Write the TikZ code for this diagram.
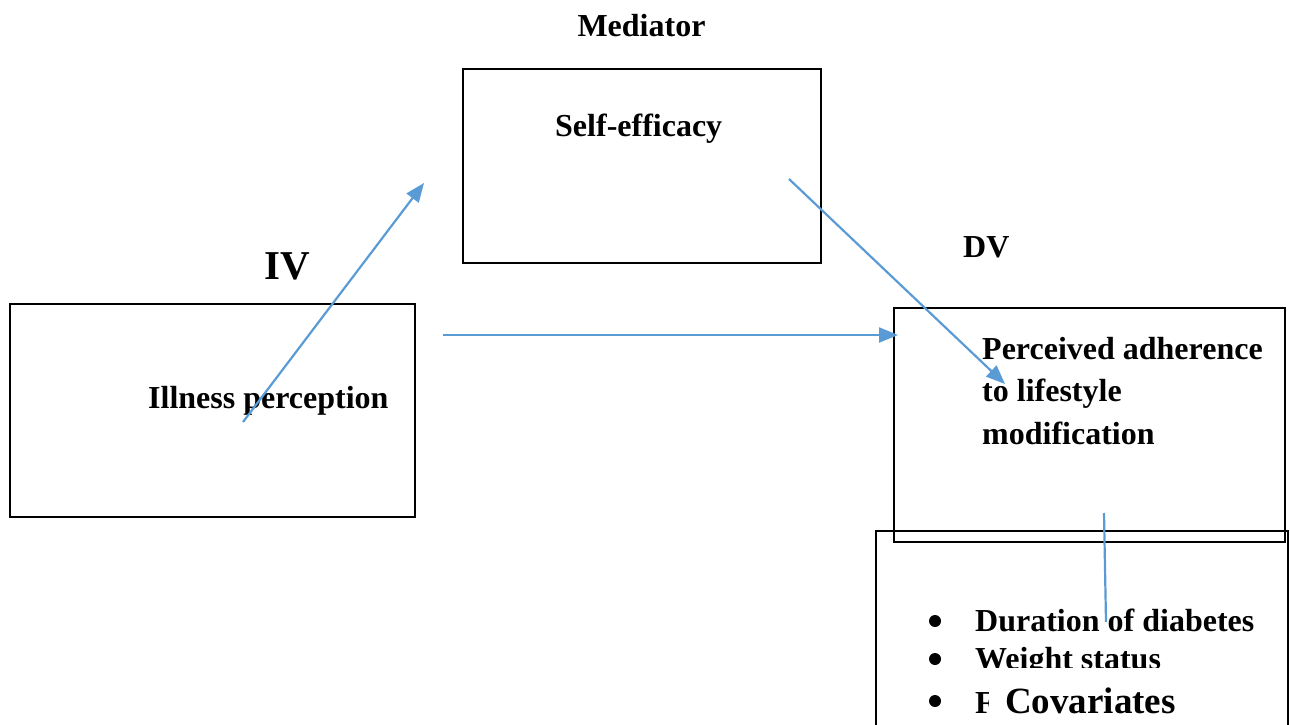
\documentclass[tikz,border=0pt]{standalone}
\usepackage{fontspec}
\setmainfont{Liberation Serif}
\usetikzlibrary{arrows.meta}
\definecolor{linkblue}{RGB}{91,155,213}

\begin{document}
\begin{tikzpicture}[x=1pt, y=-1pt,
  box/.style={draw=black, line width=2.4pt, inner sep=0pt},
  lbl/.style={font=\fontsize{32}{43}\selectfont\bfseries, inner sep=0pt},
  link/.style={draw=linkblue, line width=2.2pt},
  linkarrow/.style={link, -{Triangle[length=19pt, width=15pt]}}]
\useasboundingbox (0,0) rectangle (1290,725);
\clip (0,0) rectangle (1290,725);
% boxes
\node[box, minimum width=405pt, minimum height=213pt] (ipbox) at (212.5,410.5) {};
\node[box, minimum width=358pt, minimum height=194pt] (sebox) at (642,166) {};
\node[box, minimum width=412pt, minimum height=229pt] (covbox) at (1082,645.5) {};
\node[box, minimum width=391pt, minimum height=234pt] (dvbox) at (1089.5,425) {};
% headings
\node[lbl, anchor=base] (med) at (641.5,37) {Mediator};
\node[lbl, anchor=base west, font=\fontsize{41}{48}\selectfont\bfseries] (iv) at (264,279) {IV};
\node[lbl, anchor=base west] (dv) at (963,257) {DV};
% box texts
\node[lbl, anchor=base west] (se) at (555,136) {Self-efficacy};
\node[lbl, anchor=base west] (ip) at (148,408) {Illness perception};
\node[lbl, anchor=base west] (pa1) at (982,359) {Perceived adherence};
\node[lbl, anchor=base west] (pa2) at (982,401) {to lifestyle};
\node[lbl, anchor=base west] (pa3) at (982,444) {modification};
% covariates list
\fill (935,621) circle (6pt) (935,659) circle (6pt) (935,701) circle (6pt);
\node[lbl, anchor=base west] (dur) at (975,631) {Duration of diabetes};
\begin{scope}
\clip (960,630) rectangle (1280,667);
\node[lbl, anchor=base west] (wgt) at (975,669) {Weight status};
\end{scope}
\node[lbl, anchor=base west] (fam) at (975,713) {F};
\node[lbl, anchor=base west, fill=white, inner xsep=16pt, inner ysep=3pt,
  font=\fontsize{37}{44}\selectfont\bfseries] (cov) at (989,713) {Covariates};
% connectors
\coordinate (ipstart) at (243,422);
\coordinate (seend) at (424,183);
\coordinate (ipright) at (443,335);
\coordinate (dvleft) at (898,335);
\coordinate (sestart) at (789,179);
\coordinate (dvend) at (1005,384);
\coordinate (dvdown) at (1104,513);
\coordinate (covend) at (1106,622);
\draw[linkarrow] (ipstart) -- (seend);
\draw[linkarrow] (ipright) -- (dvleft);
\draw[linkarrow] (sestart) -- (dvend);
\draw[link] (dvdown) -- (covend);
\end{tikzpicture}
\end{document}
